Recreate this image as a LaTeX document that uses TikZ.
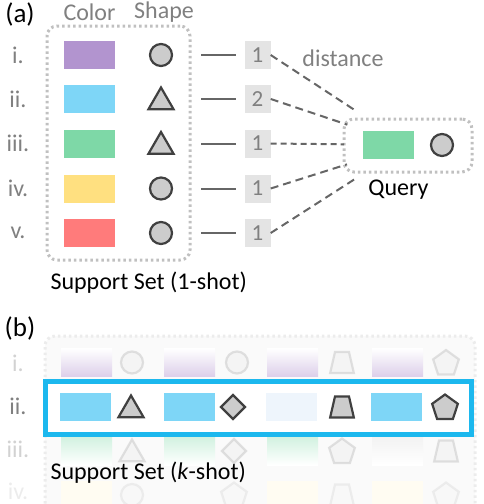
\documentclass[tikz,border=0pt]{standalone}
\usepackage{fontspec}
\setmainfont{Carlito}
\usetikzlibrary{positioning,shapes.geometric}
\definecolor{cpurple}{HTML}{B294CF}
\definecolor{cblue}{HTML}{7ED6F7}
\definecolor{cgreen}{HTML}{7ED8A7}
\definecolor{cyellow}{HTML}{FFE080}
\definecolor{cred}{HTML}{FF7B7B}
\definecolor{cpale}{HTML}{EEF5FC}
\definecolor{hlblue}{HTML}{1CB8EE}
\definecolor{txtgray}{HTML}{808080}
\definecolor{linegray}{HTML}{666666}
\definecolor{dotgray}{HTML}{C0C0C0}
\definecolor{boxgray}{HTML}{E4E4E4}
\definecolor{shapeline}{HTML}{404040}
\definecolor{shapefill}{HTML}{CCCCCC}

\begin{document}
\begin{tikzpicture}[
    x=1pt, y=-1pt,
    title/.style={font=\fontsize{27}{30}\selectfont},
    caption/.style={font=\fontsize{24}{27}\selectfont, anchor=west},
    lbl/.style={text=txtgray, font=\fontsize{24}{27}\selectfont},
    swatch/.style={minimum width=51pt, minimum height=28pt, inner sep=0pt},
    form/.style={draw=shapeline, fill=shapefill, line width=2.2pt, inner sep=0pt},
    circ/.style={form, circle, minimum size=22pt},
    tri/.style={form, regular polygon, regular polygon sides=3, minimum size=29pt, yshift=-3pt},
    diam/.style={form, diamond, minimum width=25pt, minimum height=25pt},
    trap/.style={form, trapezium, trapezium left angle=77, trapezium right angle=77,
      inner xsep=7pt, inner ysep=10.5pt},
    pent/.style={form, regular polygon, regular polygon sides=5, minimum size=27pt, yshift=-1pt},
    ghost/.style={draw=gray!45, fill=gray!12, opacity=0.5},
    faint/.style={draw=gray!30, fill=gray!6, opacity=0.4},
    distbox/.style={fill=boxgray, minimum width=26pt, minimum height=28pt, inner sep=0pt,
      text=txtgray, font=\fontsize{23}{26}\selectfont},
    link/.style={draw=linegray, line width=2pt},
    dist/.style={draw=linegray, line width=2pt, dash pattern=on 8pt off 5pt, shorten >=64pt},
    dotbox/.style={draw=dotgray, line width=3pt, dash pattern=on 2.5pt off 3pt,
      rounded corners=10pt, inner sep=0pt},
  ]
    \useasboundingbox (0,0) rectangle (484,504);

    % (a) one-shot support set
    \node [title] (a) at (20,14) {(a)};
    \node [lbl] (colhead) at (89.5,12) {Color};
    \node [lbl] (shphead) at (164,12) {Shape};

    \node [dotbox, minimum width=143pt, minimum height=234pt] (sup) at (118.5,143) {};

    \node [swatch, fill=cpurple] (c1) at (89.5,55) {};
    \node [swatch, fill=cblue] (c2) at (89.5,99) {};
    \node [swatch, fill=cgreen] (c3) at (89.5,143.5) {};
    \node [swatch, fill=cyellow] (c4) at (89.5,188.5) {};
    \node [swatch, fill=cred] (c5) at (89.5,233) {};

    \path (c1) ++(-71.5,0) node [lbl] (r1) {i.};
    \path (c2) ++(-71.5,0) node [lbl] (r2) {ii.};
    \path (c3) ++(-71.5,0) node [lbl] (r3) {iii.};
    \path (c4) ++(-71.5,0) node [lbl] (r4) {iv.};
    \path (c5) ++(-71.5,0) node [lbl] (r5) {v.};

    \path (c1) ++(71.5,0) node [circ] (s1) {};
    \path (c2) ++(71.5,0) node [tri] (s2) {};
    \path (c3) ++(71.5,0) node [tri] (s3) {};
    \path (c4) ++(71.5,0) node [circ] (s4) {};
    \path (c5) ++(71.5,0) node [circ] (s5) {};

    \path (c1) ++(168,0) node [distbox] (d1) {1};
    \path (c2) ++(168,0) node [distbox] (d2) {2};
    \path (c3) ++(168,0) node [distbox] (d3) {1};
    \path (c4) ++(168,0) node [distbox] (d4) {1};
    \path (c5) ++(168,0) node [distbox] (d5) {1};

    \node [caption] (supcap) at (47,283) {Support Set (1-shot)};
    \node [lbl] (distlbl) at (343,58) {distance};

    % query
    \node [dotbox, minimum width=128pt, minimum height=53pt] (qbox) at (408,145.5) {};
    \coordinate (qc) at (408,145);
    \node [swatch, fill=cgreen] (qcol) at (388.5,145) {};
    \node [circ] (qshp) at (442,145) {};
    \node [caption, anchor=center] (qcap) at (398.5,190) {Query};

    \draw [link, shorten <=86pt, shorten >=8pt] (c1) -- (d1);
    \draw [link, shorten <=86pt, shorten >=8pt] (c2) -- (d2);
    \draw [link, shorten <=86pt, shorten >=8pt] (c3) -- (d3);
    \draw [link, shorten <=86pt, shorten >=8pt] (c4) -- (d4);
    \draw [link, shorten <=86pt, shorten >=8pt] (c5) -- (d5);

    \draw [dist] (d1.east) -- (qc);
    \draw [dist] (d2.east) -- (qc);
    \draw [dist, dash pattern=on 6pt off 4pt] (d3.east) -- (qc);
    \draw [dist] (d4.east) -- (qc);
    \draw [dist] (d5.east) -- (qc);

    % (b) k-shot support set
    \node [title] (b) at (20,328) {(b)};
    \fill [gray!4, rounded corners=10pt] (45,336) rectangle (475,520);
    \draw [dotbox, draw=gray!15] (45,520) -- (45,336) -- (475,336) -- (475,520);

    \node [lbl, text=gray!35] (k1) at (18,363) {i.};
    \node [lbl] (k2) at (18,406) {ii.};
    \node [lbl, text=gray!35] (k3) at (18,449) {iii.};
    \node [lbl, text=gray!15] (k4) at (18,491) {iv.};

    % ghost row i
    \node [swatch, top color=white, bottom color=cpurple!45] (g11) at (86.5,362.5) {};
    \node [circ, ghost] (g12) at (132,362.5) {};
    \node [swatch, top color=white, bottom color=cpurple!45] (g13) at (189.5,362.5) {};
    \node [circ, ghost] (g14) at (237,362.5) {};
    \node [swatch, top color=white, bottom color=cpurple!45] (g15) at (292.5,362.5) {};
    \node [trap, ghost] (g16) at (342,362.5) {};
    \node [swatch, top color=white, bottom color=cpurple!45] (g17) at (397.5,362.5) {};
    \node [pent, ghost] (g18) at (446,362.5) {};

    % ghost row iii
    \node [swatch, top color=cgreen!35, bottom color=white] (g31) at (86.5,451) {};
    \node [tri, ghost] (g32) at (132,451) {};
    \node [swatch, top color=cgreen!35, bottom color=white] (g33) at (189.5,451) {};
    \node [diam, ghost] (g34) at (234,451) {};
    \node [swatch, top color=cgreen!35, bottom color=white] (g35) at (292.5,451) {};
    \node [pent, ghost] (g36) at (342,451) {};
    \node [swatch, top color=gray!10, bottom color=white] (g37) at (397.5,451) {};
    \node [trap, ghost] (g38) at (446,451) {};

    % ghost row iv
    \node [swatch, fill=cyellow!10] (g41) at (86.5,495) {};
    \node [circ, faint] (g42) at (132,495) {};
    \node [pent, faint] (g44) at (234,495) {};
    \node [swatch, fill=cyellow!10] (g45) at (292.5,495) {};
    \node [trap, faint] (g46) at (342,495) {};
    \node [swatch, fill=cyellow!10] (g47) at (397.5,495) {};
    \node [pent, faint] (g48) at (446,495) {};

    % highlighted row ii
    \node [draw=hlblue, fill=white, line width=5pt, minimum width=426pt, minimum height=53pt,
      inner sep=0pt] (hl) at (258.5,408) {};
    \node [swatch, fill=cblue] (h1) at (85.5,407) {};
    \node [tri] (h2) at (131,407) {};
    \node [swatch, fill=cblue] (h3) at (189.5,407) {};
    \node [diam] (h4) at (233,407) {};
    \node [swatch, fill=cpale] (h5) at (291.5,407) {};
    \node [trap] (h6) at (342,407) {};
    \node [swatch, fill=cblue] (h7) at (396.5,407) {};
    \node [pent] (h8) at (445,407) {};

    \node [caption] (kcap) at (47,473) {Support Set (\textit{k}-shot)};

\end{tikzpicture}
\end{document}
